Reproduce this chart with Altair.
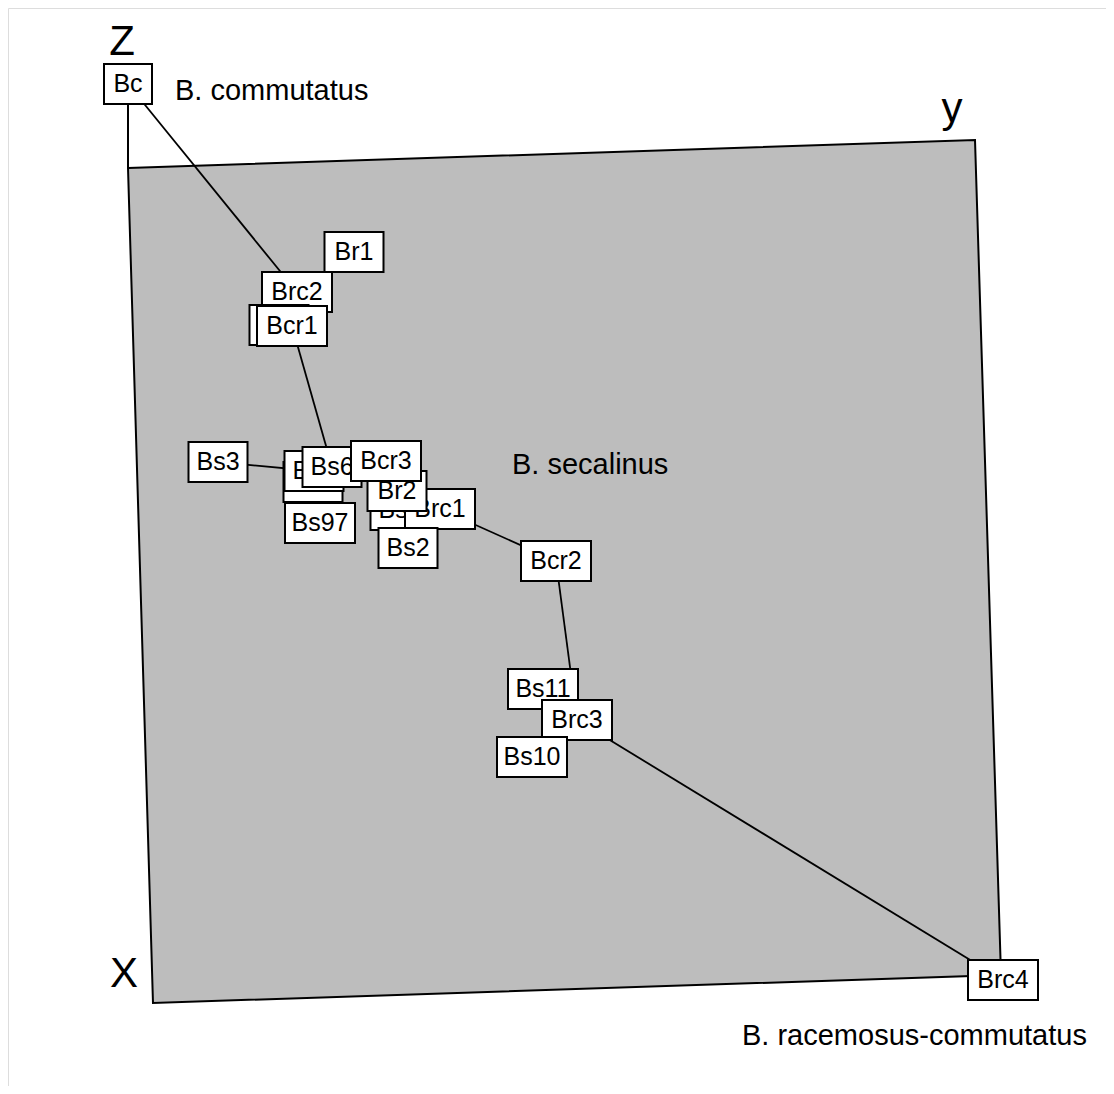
import altair as alt
import pandas as pd

# ---- data ----
labels = ["Bc", "Br1", "Brc2", "Bs4", "Bcr1", "Bs3", "Bs7", "Bs5", "Bs6", "Bs97",
          "Bs8", "Brc1", "Bs2", "Br2", "Bcr3", "Bcr2", "Bs11", "Brc3", "Bs10", "Brc4"]
px = [128, 354, 297, 279, 292, 218, 313, 314, 332, 320,
      400, 440, 408, 397, 386, 556, 543, 577, 532, 1003]
py = [84, 252, 292, 325, 326, 462, 482, 471, 467, 523,
      510, 509, 548, 491, 461, 561, 689, 720, 757, 980]

edge_from = ["Bc", "Brc2", "Brc2", "Bcr1", "Bcr1", "Bs3", "Bs5", "Bs5", "Bs7", "Bs6",
             "Bcr3", "Br2", "Bs8", "Brc1", "Brc1", "Bcr2", "Brc3", "Brc3", "Brc3"]
edge_to = ["Brc2", "Br1", "Bcr1", "Bs4", "Bs6", "Bs5", "Bs6", "Bs7", "Bs97", "Bcr3",
           "Br2", "Bs8", "Brc1", "Bs2", "Bcr2", "Brc3", "Bs11", "Bs10", "Brc4"]

plane_x = [128, 975, 1001, 153, 128]
plane_y = [168, 140, 975, 1003, 168]

zaxis_x = [128, 128]
zaxis_y = [84, 168]

axis_letters = ["Z", "y", "X"]
axis_lx = [122, 952, 124]
axis_ly = [55, 122, 987]

group_names = ["B. commutatus", "B. secalinus", "B. racemosus-commutatus"]
group_x = [175, 512, 742]
group_y = [100, 474, 1045]

# ---- tables ----
pts = pd.DataFrame({"label": labels, "cx": px, "cy": py})
pos = dict(zip(labels, zip(px, py)))
edges = pd.DataFrame({
    "x": [pos[a][0] for a in edge_from], "y": [pos[a][1] for a in edge_from],
    "x2": [pos[b][0] for b in edge_to], "y2": [pos[b][1] for b in edge_to],
})
plane = pd.DataFrame({"x": plane_x, "y": plane_y, "i": range(len(plane_x))})
zaxis = pd.DataFrame({"x": [zaxis_x[0]], "y": [zaxis_y[0]], "x2": [zaxis_x[1]], "y2": [zaxis_y[1]]})
letters = pd.DataFrame({"t": axis_letters, "x": axis_lx, "y": axis_ly})
groups = pd.DataFrame({"t": group_names, "x": group_x, "y": group_y})

W, H = 1098, 1078
xs = alt.Scale(domain=[8, 8 + W])
ys = alt.Scale(domain=[8, 8 + H], reverse=True)

def X(f):
    return alt.X(f, type="quantitative", scale=xs, axis=None)

def Y(f):
    return alt.Y(f, type="quantitative", scale=ys, axis=None)

plane_layer = alt.Chart(plane).mark_line(
    fill="#bdbdbd", stroke="black", strokeWidth=2
).encode(x=X("x"), y=Y("y"), order=alt.Order("i:Q"))

zaxis_layer = alt.Chart(zaxis).mark_rule(color="black", strokeWidth=2).encode(
    x=X("x"), y=Y("y"), x2="x2", y2="y2")

edge_layer = alt.Chart(edges).mark_rule(color="black", strokeWidth=1.8).encode(
    x=X("x"), y=Y("y"), x2="x2", y2="y2")

box_base = alt.Chart(pts).transform_calculate(
    w="26 + 11 * length(datum.label)"
).transform_calculate(
    x0="datum.cx - datum.w / 2", x1="datum.cx + datum.w / 2",
    y0="datum.cy - 20", y1="datum.cy + 20"
)

box_layers = []
for lab in labels:
    sub = box_base.transform_filter(alt.datum.label == lab)
    box_layers.append(sub.mark_rect(fill="white", stroke="black", strokeWidth=2).encode(
        x=X("x0"), x2="x1", y=Y("y0"), y2="y1"))
    box_layers.append(sub.mark_text(font="Liberation Sans", fontSize=25, color="black",
                                    align="center", baseline="middle").encode(
        x=X("cx"), y=Y("cy"), text="label:N"))

letter_layer = alt.Chart(letters).mark_text(
    font="Liberation Sans", fontSize=42, color="black", align="center", baseline="alphabetic"
).encode(x=X("x"), y=Y("y"), text="t:N")

group_layer = alt.Chart(groups).mark_text(
    font="Liberation Sans", fontSize=29, color="black",
    align="left", baseline="alphabetic"
).encode(x=X("x"), y=Y("y"), text="t:N")

chart = alt.layer(
    plane_layer, zaxis_layer, edge_layer, *box_layers, letter_layer, group_layer
).properties(
    width=W, height=H, padding=0, autosize=alt.AutoSizeParams(type="none")
).configure_view(stroke=None).configure(background="white")

chart.save("out.html", embed_options={"renderer": "svg", "actions": False})
